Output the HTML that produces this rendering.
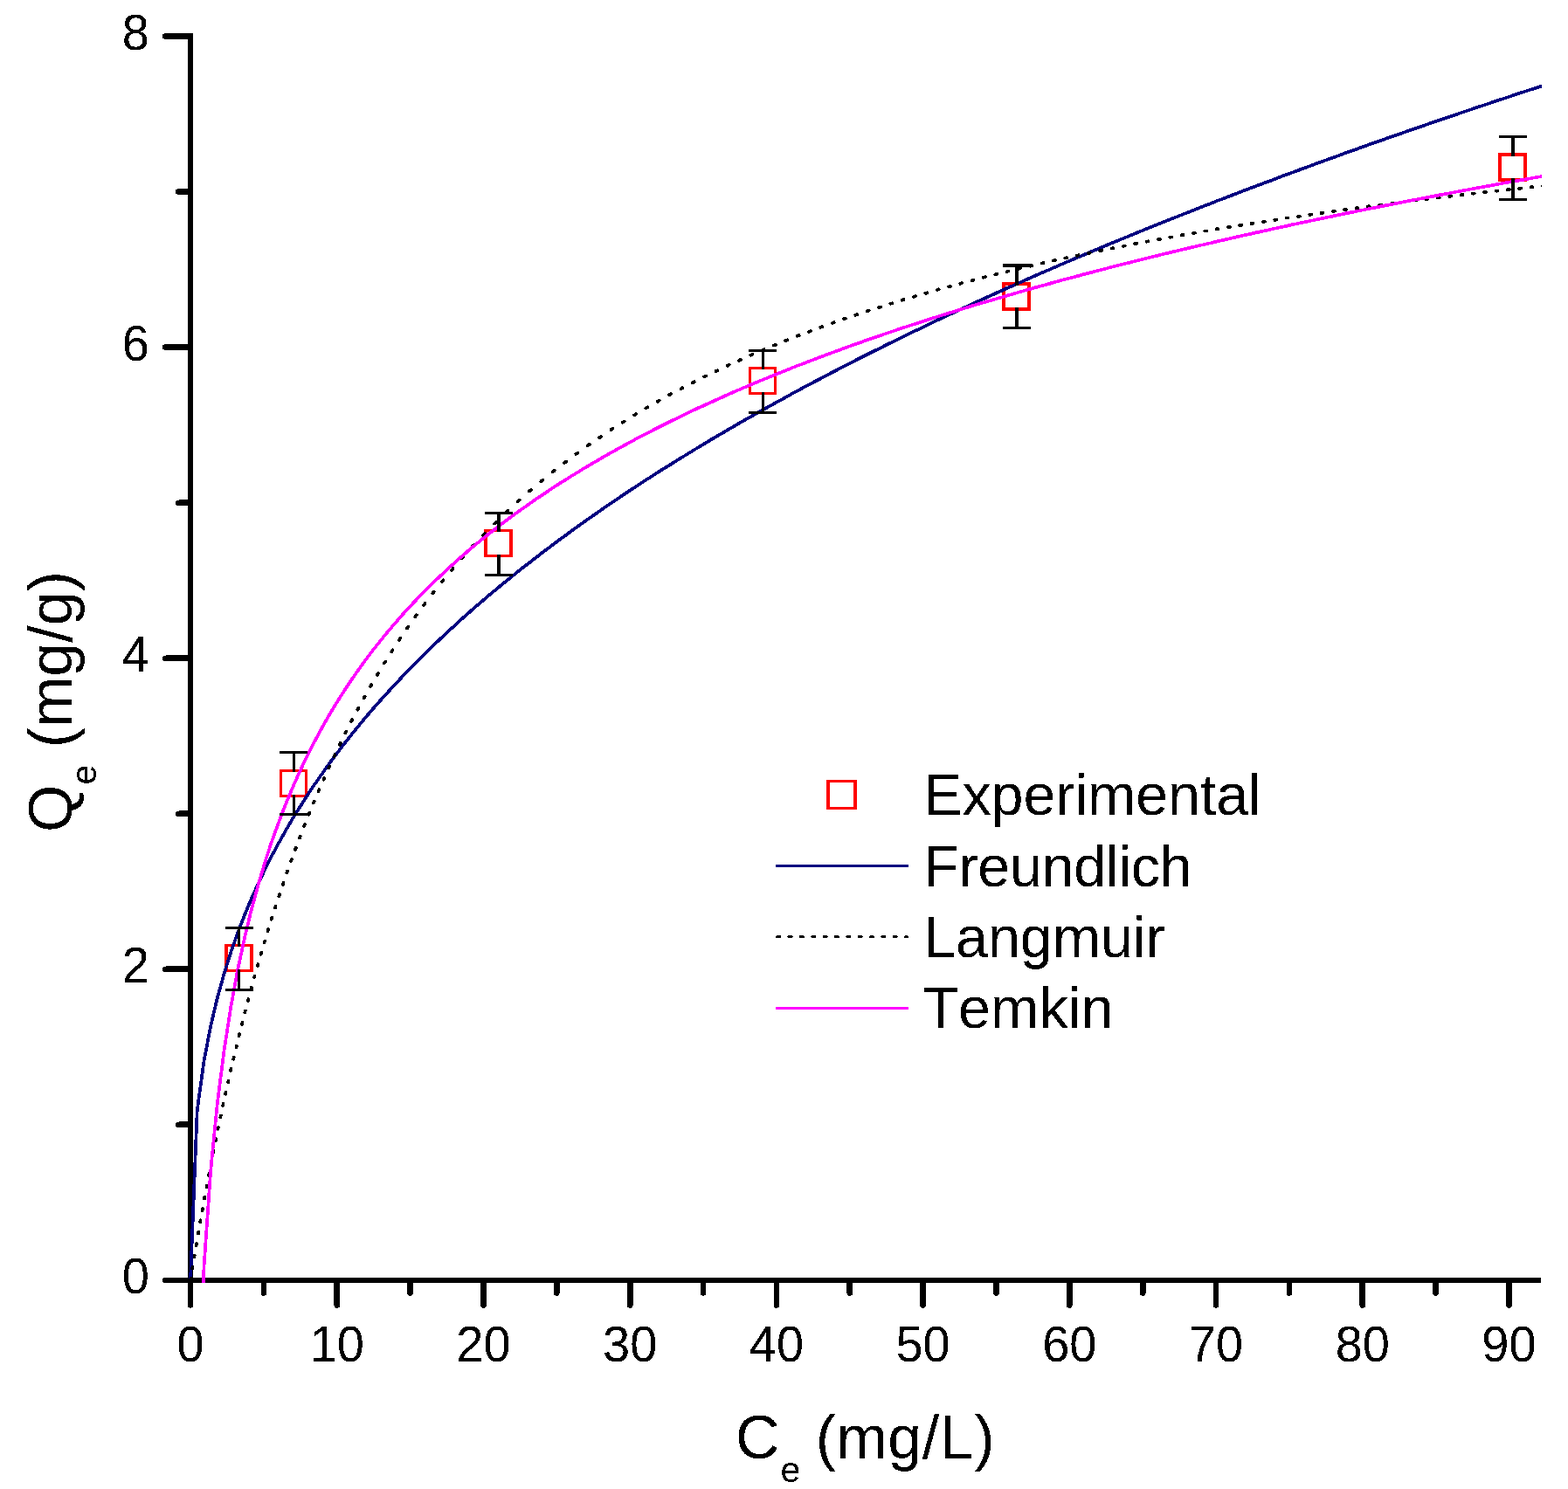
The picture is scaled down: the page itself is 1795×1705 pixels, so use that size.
<!DOCTYPE html>
<html lang="en"><head><meta charset="utf-8"><title>Adsorption isotherms</title>
<style>html,body{margin:0;padding:0;background:#fff}body{width:1795px;height:1705px;overflow:hidden}svg{display:block}text{font-family:"Liberation Sans",Arial,sans-serif;fill:#000;font-kerning:none}</style></head><body>
<svg width="1795" height="1705" viewBox="0 0 1795 1705">
<rect width="1795" height="1705" fill="#fff"/>
<defs><clipPath id="plot"><rect x="215" y="0" width="1550.0" height="1469"/></clipPath>
<filter id="thr" x="0" y="0" width="1795" height="1705" filterUnits="userSpaceOnUse" color-interpolation-filters="sRGB"><feComponentTransfer><feFuncA type="discrete" tableValues="0 1"/></feComponentTransfer></filter></defs>
<g filter="url(#thr)">
<g stroke="#000" stroke-width="6.6" fill="none" stroke-linecap="round">
<line x1="189.3" y1="1466.0" x2="216" y2="1466.0"/>
<line x1="204.3" y1="1287.9" x2="216" y2="1287.9"/>
<line x1="189.3" y1="1109.9" x2="216" y2="1109.9"/>
<line x1="204.3" y1="931.8" x2="216" y2="931.8"/>
<line x1="189.3" y1="753.8" x2="216" y2="753.8"/>
<line x1="204.3" y1="575.7" x2="216" y2="575.7"/>
<line x1="189.3" y1="397.6" x2="216" y2="397.6"/>
<line x1="204.3" y1="219.6" x2="216" y2="219.6"/>
<line x1="189.3" y1="41.5" x2="216" y2="41.5"/>
<line x1="218.0" y1="1468" x2="218.0" y2="1494.6"/>
<line x1="301.9" y1="1468" x2="301.9" y2="1480.6"/>
<line x1="385.7" y1="1468" x2="385.7" y2="1494.6"/>
<line x1="469.6" y1="1468" x2="469.6" y2="1480.6"/>
<line x1="553.4" y1="1468" x2="553.4" y2="1494.6"/>
<line x1="637.3" y1="1468" x2="637.3" y2="1480.6"/>
<line x1="721.2" y1="1468" x2="721.2" y2="1494.6"/>
<line x1="805.0" y1="1468" x2="805.0" y2="1480.6"/>
<line x1="888.9" y1="1468" x2="888.9" y2="1494.6"/>
<line x1="972.7" y1="1468" x2="972.7" y2="1480.6"/>
<line x1="1056.6" y1="1468" x2="1056.6" y2="1494.6"/>
<line x1="1140.5" y1="1468" x2="1140.5" y2="1480.6"/>
<line x1="1224.3" y1="1468" x2="1224.3" y2="1494.6"/>
<line x1="1308.2" y1="1468" x2="1308.2" y2="1480.6"/>
<line x1="1392.0" y1="1468" x2="1392.0" y2="1494.6"/>
<line x1="1475.9" y1="1468" x2="1475.9" y2="1480.6"/>
<line x1="1559.8" y1="1468" x2="1559.8" y2="1494.6"/>
<line x1="1643.6" y1="1468" x2="1643.6" y2="1480.6"/>
<line x1="1727.5" y1="1468" x2="1727.5" y2="1494.6"/>
</g>
<g fill="#000" shape-rendering="crispEdges">
<rect x="215" y="38" width="6" height="1431"/>
<rect x="215" y="1463" width="1549" height="6"/>
</g>
<g font-size="56">
<text transform="translate(218.0,1559.3) scale(1,1.02)" text-anchor="middle">0</text>
<text transform="translate(385.7,1559.3) scale(1,1.02)" text-anchor="middle">10</text>
<text transform="translate(553.4,1559.3) scale(1,1.02)" text-anchor="middle">20</text>
<text transform="translate(721.2,1559.3) scale(1,1.02)" text-anchor="middle">30</text>
<text transform="translate(888.9,1559.3) scale(1,1.02)" text-anchor="middle">40</text>
<text transform="translate(1056.6,1559.3) scale(1,1.02)" text-anchor="middle">50</text>
<text transform="translate(1224.3,1559.3) scale(1,1.02)" text-anchor="middle">60</text>
<text transform="translate(1392.0,1559.3) scale(1,1.02)" text-anchor="middle">70</text>
<text transform="translate(1559.8,1559.3) scale(1,1.02)" text-anchor="middle">80</text>
<text transform="translate(1727.5,1559.3) scale(1,1.02)" text-anchor="middle">90</text>
<text transform="translate(171,1481.3) scale(1,1.02)" text-anchor="end">0</text>
<text transform="translate(171,1125.2) scale(1,1.02)" text-anchor="end">2</text>
<text transform="translate(171,769.1) scale(1,1.02)" text-anchor="end">4</text>
<text transform="translate(171,412.9) scale(1,1.02)" text-anchor="end">6</text>
<text transform="translate(171,56.8) scale(1,1.02)" text-anchor="end">8</text>
</g>
<g transform="translate(842.0,1669.8)"><text x="0" y="0" font-size="70">C<tspan font-size="41" dx="0.9" dy="27">e </tspan><tspan dx="5.96" dy="-27" textLength="204.84">(mg/L)</tspan></text></g>
<g transform="translate(82,953) rotate(-90)"><text x="0" y="0" font-size="70">Q<tspan font-size="41" dx="0" dy="28">e </tspan><tspan dx="8.06" dy="-28">(mg/g)</tspan></text></g>
</g>
<g clip-path="url(#plot)">
<path fill="#f00" fill-rule="evenodd" d="M257,1081H290V1113H257Z M261,1084V1110H286V1084Z M320,881H352V913H320Z M323,884V910H349V884Z M554,606H587V638H554Z M558,609V635H583V609Z M857,420H889V452H857Z M860,423V449H886V423Z M1147,323H1180V356H1147Z M1151,327V352H1176V327Z M1715,175H1748V208H1715Z M1719,179V204H1744V179Z"/>
<polyline points="218.0,1466.0 225.7,1271.6 233.5,1215.1 241.2,1174.7 248.9,1142.2 256.7,1114.4 264.4,1090.0 272.1,1068.1 279.9,1048.0 287.6,1029.5 295.4,1012.2 303.1,996.0 310.8,980.7 318.6,966.2 326.3,952.3 334.0,939.1 341.8,926.5 349.5,914.3 357.2,902.5 365.0,891.2 372.7,880.3 380.4,869.6 388.2,859.3 395.9,849.3 403.6,839.6 411.4,830.1 419.1,820.8 426.8,811.8 434.6,803.0 442.3,794.4 450.1,785.9 457.8,777.7 465.5,769.6 473.3,761.6 481.0,753.9 488.7,746.2 496.5,738.7 504.2,731.3 511.9,724.1 519.7,717.0 527.4,709.9 535.1,703.0 542.9,696.2 550.6,689.5 558.3,682.9 566.1,676.4 573.8,670.0 581.5,663.7 589.3,657.4 597.0,651.3 604.8,645.2 612.5,639.2 620.2,633.3 628.0,627.4 635.7,621.6 643.4,615.9 651.2,610.2 658.9,604.6 666.6,599.1 674.4,593.6 682.1,588.2 689.8,582.8 697.6,577.5 705.3,572.3 713.0,567.1 720.8,561.9 728.5,556.8 736.2,551.8 744.0,546.8 751.7,541.8 759.4,536.9 767.2,532.1 774.9,527.2 782.7,522.5 790.4,517.7 798.1,513.0 805.9,508.4 813.6,503.7 821.3,499.2 829.1,494.6 836.8,490.1 844.5,485.6 852.3,481.2 860.0,476.8 867.7,472.4 875.5,468.1 883.2,463.8 890.9,459.5 898.7,455.3 906.4,451.0 914.1,446.9 921.9,442.7 929.6,438.6 937.4,434.5 945.1,430.4 952.8,426.4 960.6,422.3 968.3,418.4 976.0,414.4 983.8,410.5 991.5,406.5 999.2,402.6 1007.0,398.8 1014.7,394.9 1022.4,391.1 1030.2,387.3 1037.9,383.6 1045.6,379.8 1053.4,376.1 1061.1,372.4 1068.8,368.7 1076.6,365.0 1084.3,361.4 1092.1,357.8 1099.8,354.2 1107.5,350.6 1115.3,347.0 1123.0,343.5 1130.7,340.0 1138.5,336.5 1146.2,333.0 1153.9,329.5 1161.7,326.1 1169.4,322.6 1177.1,319.2 1184.9,315.8 1192.6,312.4 1200.3,309.1 1208.1,305.7 1215.8,302.4 1223.5,299.1 1231.3,295.8 1239.0,292.5 1246.8,289.2 1254.5,286.0 1262.2,282.7 1270.0,279.5 1277.7,276.3 1285.4,273.1 1293.2,270.0 1300.9,266.8 1308.6,263.6 1316.4,260.5 1324.1,257.4 1331.8,254.3 1339.6,251.2 1347.3,248.1 1355.0,245.1 1362.8,242.0 1370.5,239.0 1378.2,235.9 1386.0,232.9 1393.7,229.9 1401.5,226.9 1409.2,224.0 1416.9,221.0 1424.7,218.0 1432.4,215.1 1440.1,212.2 1447.9,209.3 1455.6,206.4 1463.3,203.5 1471.1,200.6 1478.8,197.7 1486.5,194.9 1494.3,192.0 1502.0,189.2 1509.7,186.3 1517.5,183.5 1525.2,180.7 1533.0,177.9 1540.7,175.1 1548.4,172.4 1556.2,169.6 1563.9,166.8 1571.6,164.1 1579.4,161.4 1587.1,158.6 1594.8,155.9 1602.6,153.2 1610.3,150.5 1618.0,147.8 1625.8,145.2 1633.5,142.5 1641.2,139.8 1649.0,137.2 1656.7,134.5 1664.4,131.9 1672.2,129.3 1679.9,126.7 1687.7,124.1 1695.4,121.5 1703.1,118.9 1710.9,116.3 1718.6,113.7 1726.3,111.2 1734.1,108.6 1741.8,106.1 1749.5,103.5 1757.3,101.0 1765.0,98.5 1772.7,96.0" fill="none" stroke="#000080" stroke-width="3.7" stroke-linejoin="round" filter="url(#thr)"/>
<path d="M218.0,1466.0 L218.3,1464.0 M220.2,1452.7 L220.5,1450.7 M222.4,1439.3 L222.7,1437.3 M224.6,1426.0 L224.9,1424.0 M226.9,1412.7 L227.2,1410.7 M229.2,1399.3 L229.6,1397.3 M231.6,1386.0 L231.9,1384.0 M234.0,1372.7 L234.3,1370.7 M236.5,1359.4 L236.9,1357.4 M239.0,1346.0 L239.4,1344.0 M241.5,1332.7 L241.9,1330.7 M244.2,1319.4 L244.6,1317.4 M246.8,1306.0 L247.2,1304.0 M249.5,1292.7 L249.9,1290.7 M252.3,1279.4 L252.8,1277.4 M255.2,1266.0 L255.6,1264.0 M258.1,1252.7 L258.5,1250.7 M261.1,1239.4 L261.5,1237.4 M264.1,1226.1 L264.4,1224.5 L264.5,1224.1 M267.2,1212.7 L267.7,1210.7 M270.4,1199.4 L270.8,1197.4 M273.6,1186.1 L274.1,1184.1 M276.9,1172.7 L277.4,1170.7 M280.3,1159.4 L280.8,1157.4 M283.8,1146.1 L284.4,1144.1 M287.4,1132.8 L287.6,1131.8 L287.9,1130.8 M291.1,1119.4 L291.6,1117.4 M294.8,1106.1 L295.3,1104.1 M298.6,1092.8 L299.2,1090.8 M302.5,1079.4 L303.1,1077.5 L303.1,1077.4 M306.6,1066.1 L307.2,1064.1 M310.7,1052.8 L310.8,1052.4 L311.3,1050.8 M315.0,1039.4 L315.6,1037.4 M319.3,1026.1 L320.0,1024.1 M323.8,1012.8 L324.5,1010.8 M328.4,999.5 L329.1,997.5 M333.1,986.1 L333.8,984.1 M338.0,972.8 L338.8,970.8 M343.0,959.5 L343.8,957.5 M348.2,946.1 L348.9,944.1 M353.5,932.8 L354.3,930.8 M358.9,919.5 L359.8,917.5 M364.5,906.1 L365.0,905.1 L365.4,904.1 M370.4,892.8 L371.2,890.8 M376.3,879.5 L377.2,877.5 M382.5,866.1 L383.4,864.1 M388.8,852.8 L389.8,850.8 M395.4,839.5 L395.9,838.5 L396.4,837.5 M402.2,826.2 L403.2,824.2 M409.3,812.8 L410.3,810.8 M416.5,799.5 L417.6,797.5 M424.1,786.2 L425.2,784.2 M431.8,772.8 L433.0,770.8 M439.9,759.5 L441.1,757.5 M448.3,746.2 L449.6,744.2 M457.0,732.9 L457.8,731.6 L458.3,730.9 M466.0,719.5 L467.4,717.5 M475.4,706.2 L476.8,704.2 M485.1,692.9 L486.6,690.9 M495.3,679.5 L496.5,678.0 L496.8,677.5 M505.9,666.2 L507.5,664.2 M516.9,652.9 L518.6,650.9 M528.4,639.5 L530.2,637.5 M540.4,626.2 L542.2,624.2 M553.0,612.9 L554.9,610.9 M566.1,599.6 L568.1,597.6 M579.4,586.7 L581.4,584.8 M592.8,574.3 L594.8,572.5 M606.1,562.5 L608.1,560.8 M619.4,551.2 L620.2,550.5 L621.4,549.5 M632.7,540.4 L634.7,538.8 M646.1,529.9 L648.1,528.4 M659.4,519.9 L661.4,518.5 M672.7,510.3 L674.4,509.2 L674.7,508.9 M686.1,501.1 L688.1,499.8 M699.4,492.2 L701.4,490.9 M712.7,483.7 L713.0,483.5 L714.7,482.4 M726.1,475.4 L728.1,474.2 M739.4,467.4 L741.4,466.3 M752.7,459.8 L754.7,458.6 M766.0,452.3 L767.2,451.7 L768.0,451.2 M779.4,445.2 L781.4,444.1 M792.7,438.2 L794.7,437.2 M806.0,431.5 L808.0,430.5 M819.4,425.0 L821.3,424.1 L821.4,424.1 M832.7,418.8 L834.7,417.8 M846.0,412.7 L848.0,411.8 M859.4,406.8 L860.0,406.5 L861.4,405.9 M872.7,401.0 L874.7,400.2 M886.0,395.5 L888.0,394.7 M899.3,390.1 L901.3,389.3 M912.7,384.8 L914.1,384.3 L914.7,384.1 M926.0,379.7 L928.0,379.0 M939.3,374.8 L941.3,374.1 M952.7,370.0 L952.8,369.9 L954.7,369.3 M966.0,365.3 L968.0,364.6 M979.3,360.8 L981.3,360.1 M992.7,356.3 L994.7,355.7 M1006.0,352.0 L1007.0,351.7 L1008.0,351.4 M1019.3,347.8 L1021.3,347.2 M1032.6,343.7 L1034.6,343.1 M1046.0,339.7 L1048.0,339.1 M1059.3,335.8 L1061.1,335.3 L1061.3,335.2 M1072.6,332.0 L1074.6,331.4 M1086.0,328.3 L1088.0,327.8 M1099.3,324.7 L1099.8,324.5 L1101.3,324.1 M1112.6,321.1 L1114.6,320.6 M1126.0,317.7 L1128.0,317.2 M1139.3,314.3 L1141.3,313.8 M1152.6,311.0 L1153.9,310.7 L1154.6,310.5 M1165.9,307.8 L1167.9,307.3 M1179.3,304.7 L1181.3,304.2 M1192.6,301.6 L1192.6,301.6 L1194.6,301.1 M1205.9,298.6 L1207.9,298.1 M1219.3,295.6 L1221.3,295.2 M1232.6,292.8 L1234.6,292.3 M1245.9,289.9 L1246.8,289.8 L1247.9,289.5 M1259.3,287.2 L1261.3,286.8 M1272.6,284.5 L1274.6,284.1 M1285.9,281.8 L1287.9,281.4 M1299.2,279.2 L1300.9,278.9 L1301.2,278.8 M1312.6,276.7 L1314.6,276.3 M1325.9,274.2 L1327.9,273.8 M1339.2,271.7 L1339.6,271.7 L1341.2,271.4 M1352.6,269.4 L1354.6,269.0 M1365.9,267.0 L1367.9,266.7 M1379.2,264.7 L1381.2,264.4 M1392.6,262.4 L1393.7,262.2 L1394.6,262.1 M1405.9,260.2 L1407.9,259.9 M1419.2,258.1 L1421.2,257.7 M1432.5,255.9 L1434.5,255.6 M1445.9,253.8 L1447.9,253.5 L1447.9,253.5 M1459.2,251.8 L1461.2,251.5 M1472.5,249.7 L1474.5,249.4 M1485.9,247.8 L1486.5,247.7 L1487.9,247.5 M1499.2,245.8 L1501.2,245.5 M1512.5,243.9 L1514.5,243.6 M1525.9,242.0 L1527.9,241.7 M1539.2,240.1 L1540.7,239.9 L1541.2,239.9 M1552.5,238.3 L1554.5,238.1 M1565.8,236.5 L1567.8,236.3 M1579.2,234.8 L1579.4,234.8 L1581.2,234.5 M1592.5,233.1 L1594.5,232.8 M1605.8,231.4 L1607.8,231.1 M1619.2,229.7 L1621.2,229.4 M1632.5,228.0 L1633.5,227.9 L1634.5,227.8 M1645.8,226.4 L1647.8,226.2 M1659.2,224.8 L1661.2,224.6 M1672.5,223.2 L1674.5,223.0 M1685.8,221.7 L1687.7,221.5 L1687.8,221.5 M1699.1,220.2 L1701.1,220.0 M1712.5,218.7 L1714.5,218.5 M1725.8,217.2 L1726.3,217.2 L1727.8,217.0 M1739.1,215.8 L1741.1,215.5 M1752.5,214.3 L1754.5,214.1 M1765.8,212.9 L1767.8,212.7" fill="none" stroke="#000" stroke-width="3.8" stroke-linecap="round" stroke-linejoin="round" filter="url(#thr)"/>
<polyline points="225.7,1637.9 233.5,1450.0 241.2,1340.1 248.9,1262.2 256.7,1201.7 264.4,1152.3 272.1,1110.5 279.9,1074.3 287.6,1042.4 295.4,1013.9 303.1,988.0 310.8,964.4 318.6,942.8 326.3,922.7 334.0,904.0 341.8,886.5 349.5,870.0 357.2,854.6 365.0,839.9 372.7,826.0 380.4,812.8 388.2,800.2 395.9,788.1 403.6,776.6 411.4,765.5 419.1,754.9 426.8,744.7 434.6,734.8 442.3,725.3 450.1,716.1 457.8,707.2 465.5,698.6 473.3,690.3 481.0,682.2 488.7,674.3 496.5,666.7 504.2,659.3 511.9,652.1 519.7,645.0 527.4,638.2 535.1,631.5 542.9,624.9 550.6,618.6 558.3,612.3 566.1,606.2 573.8,600.3 581.5,594.5 589.3,588.7 597.0,583.2 604.8,577.7 612.5,572.3 620.2,567.1 628.0,561.9 635.7,556.8 643.4,551.9 651.2,547.0 658.9,542.2 666.6,537.5 674.4,532.8 682.1,528.3 689.8,523.8 697.6,519.4 705.3,515.1 713.0,510.8 720.8,506.6 728.5,502.4 736.2,498.4 744.0,494.4 751.7,490.4 759.4,486.5 767.2,482.7 774.9,478.9 782.7,475.1 790.4,471.4 798.1,467.8 805.9,464.2 813.6,460.7 821.3,457.2 829.1,453.7 836.8,450.3 844.5,446.9 852.3,443.6 860.0,440.3 867.7,437.1 875.5,433.9 883.2,430.7 890.9,427.6 898.7,424.5 906.4,421.4 914.1,418.4 921.9,415.4 929.6,412.4 937.4,409.5 945.1,406.6 952.8,403.7 960.6,400.9 968.3,398.1 976.0,395.3 983.8,392.6 991.5,389.8 999.2,387.1 1007.0,384.5 1014.7,381.8 1022.4,379.2 1030.2,376.6 1037.9,374.0 1045.6,371.5 1053.4,369.0 1061.1,366.5 1068.8,364.0 1076.6,361.6 1084.3,359.1 1092.1,356.7 1099.8,354.3 1107.5,352.0 1115.3,349.6 1123.0,347.3 1130.7,345.0 1138.5,342.7 1146.2,340.4 1153.9,338.2 1161.7,335.9 1169.4,333.7 1177.1,331.5 1184.9,329.4 1192.6,327.2 1200.3,325.1 1208.1,322.9 1215.8,320.8 1223.5,318.7 1231.3,316.7 1239.0,314.6 1246.8,312.6 1254.5,310.5 1262.2,308.5 1270.0,306.5 1277.7,304.5 1285.4,302.5 1293.2,300.6 1300.9,298.6 1308.6,296.7 1316.4,294.8 1324.1,292.9 1331.8,291.0 1339.6,289.1 1347.3,287.3 1355.0,285.4 1362.8,283.6 1370.5,281.8 1378.2,280.0 1386.0,278.2 1393.7,276.4 1401.5,274.6 1409.2,272.8 1416.9,271.1 1424.7,269.3 1432.4,267.6 1440.1,265.9 1447.9,264.2 1455.6,262.5 1463.3,260.8 1471.1,259.1 1478.8,257.4 1486.5,255.8 1494.3,254.1 1502.0,252.5 1509.7,250.9 1517.5,249.2 1525.2,247.6 1533.0,246.0 1540.7,244.4 1548.4,242.9 1556.2,241.3 1563.9,239.7 1571.6,238.2 1579.4,236.6 1587.1,235.1 1594.8,233.6 1602.6,232.1 1610.3,230.5 1618.0,229.0 1625.8,227.5 1633.5,226.1 1641.2,224.6 1649.0,223.1 1656.7,221.7 1664.4,220.2 1672.2,218.8 1679.9,217.3 1687.7,215.9 1695.4,214.5 1703.1,213.1 1710.9,211.6 1718.6,210.2 1726.3,208.8 1734.1,207.5 1741.8,206.1 1749.5,204.7 1757.3,203.3 1765.0,202.0 1772.7,200.6" fill="none" stroke="#f0f" stroke-width="3.7" stroke-linejoin="round" filter="url(#thr)"/>
<g fill="#000" stroke="none" filter="url(#thr)">
<rect x="258" y="1061" width="32" height="3"/>
<rect x="258" y="1132" width="32" height="3"/>
<rect x="272" y="1061" width="3" height="23.6" rx="1.3"/>
<rect x="272" y="1109.4" width="3" height="25.6" rx="1.3"/>
<rect x="320" y="860" width="32" height="3"/>
<rect x="320" y="931" width="32" height="3"/>
<rect x="335" y="860" width="3" height="24.6" rx="1.3"/>
<rect x="335" y="909.4" width="3" height="24.6" rx="1.3"/>
<rect x="555" y="586" width="32" height="3"/>
<rect x="555" y="657" width="32" height="3"/>
<rect x="569" y="586" width="4" height="23.6" rx="1.3"/>
<rect x="569" y="634.4" width="4" height="25.6" rx="1.3"/>
<rect x="857" y="400" width="32" height="3"/>
<rect x="857" y="471" width="32" height="3"/>
<rect x="872" y="400" width="3" height="23.6" rx="1.3"/>
<rect x="872" y="448.4" width="3" height="25.6" rx="1.3"/>
<rect x="1148" y="302" width="32" height="4"/>
<rect x="1148" y="374" width="32" height="3"/>
<rect x="1162" y="302" width="4" height="25.6" rx="1.3"/>
<rect x="1162" y="351.4" width="4" height="25.6" rx="1.3"/>
<rect x="1716" y="155" width="32" height="3"/>
<rect x="1716" y="227" width="32" height="3"/>
<rect x="1730" y="155" width="4" height="24.6" rx="1.3"/>
<rect x="1730" y="203.4" width="4" height="26.6" rx="1.3"/>
</g>
</g>
<g filter="url(#thr)">
<path fill="#f00" fill-rule="evenodd" d="M946,893H981V927H946Z M950,896V924H977V896Z"/>
<rect x="888" y="990" width="152" height="3" fill="#000080" shape-rendering="crispEdges"/>
<line x1="889.7" y1="1072.6" x2="1038.4" y2="1072.6" stroke="#000" stroke-width="3.3" stroke-dasharray="2.9 10.46" stroke-linecap="round"/>
<rect x="888" y="1153" width="152" height="3" fill="#f0f" shape-rendering="crispEdges"/>
<g font-size="66.5">
<text x="1057.25" y="932.6" textLength="386.64">Experimental</text>
<text x="1057.25" y="1014.6" textLength="307.33">Freundlich</text>
<text x="1057.25" y="1095.6" textLength="276.48">Langmuir</text>
<text x="1056.50" y="1177.1">Temkin</text>
</g>
</g>
</svg></body></html>
